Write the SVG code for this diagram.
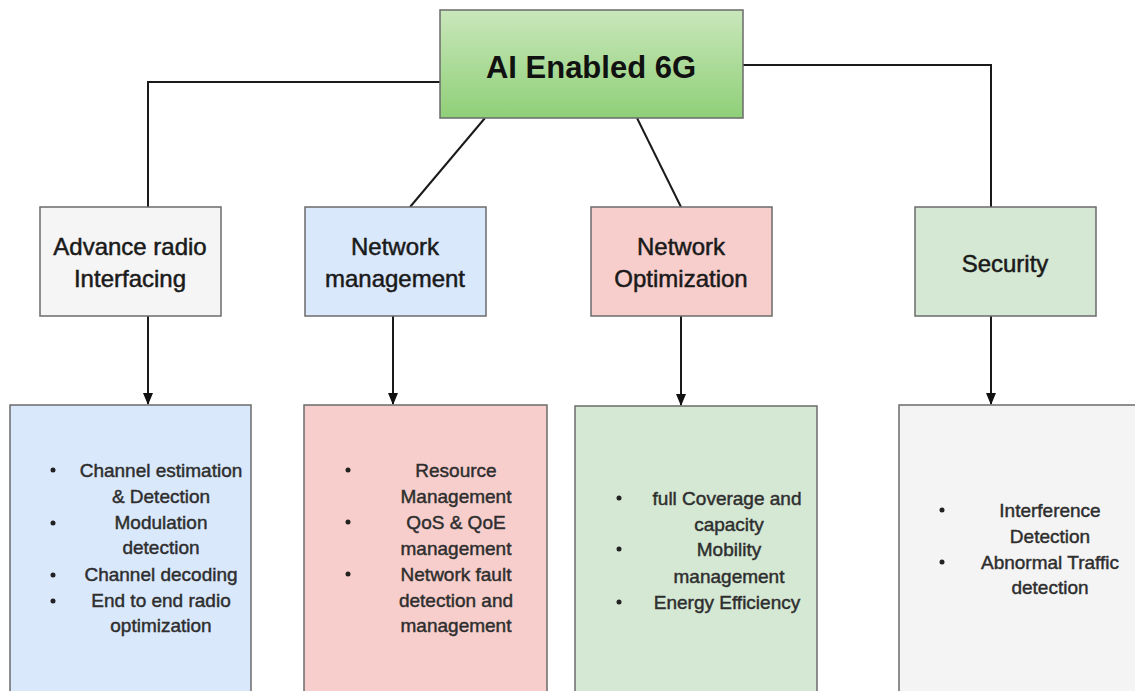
<svg xmlns="http://www.w3.org/2000/svg" width="1135" height="691" viewBox="0 0 1135 691">
  <defs>
    <linearGradient id="rootFill" x1="0" y1="0" x2="0" y2="1">
      <stop offset="0" stop-color="#c9e7bb"/>
      <stop offset="1" stop-color="#8fcf78"/>
    </linearGradient>
    <marker id="arrowhead" viewBox="0 0 12 12" refX="11" refY="6" markerWidth="12" markerHeight="12" markerUnits="userSpaceOnUse" orient="auto">
      <path d="M0,1 L12,6 L0,11 z" fill="#111"/>
    </marker>
  </defs>
  <style>
    .box { stroke: #6b6b6b; stroke-width: 1.5; }
    .title { font-family: "Liberation Sans", Arial, sans-serif; font-weight: bold; font-size: 31px; fill: #111; text-anchor: middle; }
    .head { font-family: "Liberation Sans", Arial, sans-serif; font-size: 24px; fill: #1a1a1a; stroke: #1a1a1a; stroke-width: 0.5; text-anchor: middle; }
    .item { font-family: "Liberation Sans", Arial, sans-serif; font-size: 19px; fill: #2e2e2e; stroke: #2e2e2e; stroke-width: 0.45; text-anchor: middle; }
    .dot { fill: #222; }
    .link { fill: none; stroke: #1a1a1a; stroke-width: 2; }
  </style>

  <rect width="1135" height="691" fill="#ffffff"/>

  <!-- connectors -->
  <g id="connectors">
    <polyline class="link" points="440,82 148,82 148,207"/>
    <polyline class="link" points="743,65 991,65 991,207"/>
    <line class="link" x1="485" y1="118" x2="410" y2="207"/>
    <line class="link" x1="637" y1="118" x2="681" y2="207"/>
    <line class="link" x1="148" y1="316" x2="148" y2="404" marker-end="url(#arrowhead)"/>
    <line class="link" x1="393" y1="316" x2="393" y2="404" marker-end="url(#arrowhead)"/>
    <line class="link" x1="681" y1="316" x2="681" y2="405" marker-end="url(#arrowhead)"/>
    <line class="link" x1="991" y1="316" x2="991" y2="404" marker-end="url(#arrowhead)"/>
  </g>

  <!-- root -->
  <g id="ai-enabled-6g">
    <rect class="box" x="440" y="10" width="303" height="108" fill="url(#rootFill)"/>
    <text class="title" x="591" y="78">AI Enabled 6G</text>
  </g>

  <!-- second level -->
  <g id="advance-radio">
    <rect class="box" x="40" y="207" width="181" height="109" fill="#f5f5f5"/>
    <text class="head" x="130" y="255">Advance radio</text>
    <text class="head" x="130" y="287">Interfacing</text>
  </g>
  <g id="network-management">
    <rect class="box" x="305" y="207" width="181" height="109" fill="#dae8fc"/>
    <text class="head" x="395" y="255">Network</text>
    <text class="head" x="395" y="287">management</text>
  </g>
  <g id="network-optimization">
    <rect class="box" x="591" y="207" width="181" height="109" fill="#f8cecc"/>
    <text class="head" x="681" y="255">Network</text>
    <text class="head" x="681" y="287">Optimization</text>
  </g>
  <g id="security">
    <rect class="box" x="915" y="207" width="181" height="109" fill="#d5e8d4"/>
    <text class="head" x="1005" y="272">Security</text>
  </g>

  <!-- third level -->
  <g id="radio-tasks">
    <rect class="box" x="10" y="405" width="241" height="290" fill="#dae8fc"/>
    <circle class="dot" cx="53" cy="470" r="2.5"/>
    <circle class="dot" cx="53" cy="523" r="2.5"/>
    <circle class="dot" cx="53" cy="575" r="2.5"/>
    <circle class="dot" cx="53" cy="601" r="2.5"/>
    <text class="item" x="161" y="477">Channel estimation</text>
    <text class="item" x="161" y="503">&amp; Detection</text>
    <text class="item" x="161" y="529">Modulation</text>
    <text class="item" x="161" y="554">detection</text>
    <text class="item" x="161" y="581">Channel decoding</text>
    <text class="item" x="161" y="607">End to end radio</text>
    <text class="item" x="161" y="632">optimization</text>
  </g>
  <g id="management-tasks">
    <rect class="box" x="304" y="405" width="243" height="290" fill="#f8cecc"/>
    <circle class="dot" cx="348" cy="470" r="2.5"/>
    <circle class="dot" cx="348" cy="522" r="2.5"/>
    <circle class="dot" cx="348" cy="574" r="2.5"/>
    <text class="item" x="456" y="477">Resource</text>
    <text class="item" x="456" y="503">Management</text>
    <text class="item" x="456" y="529">QoS &amp; QoE</text>
    <text class="item" x="456" y="555">management</text>
    <text class="item" x="456" y="581">Network fault</text>
    <text class="item" x="456" y="607">detection and</text>
    <text class="item" x="456" y="632">management</text>
  </g>
  <g id="optimization-tasks">
    <rect class="box" x="575" y="406" width="242" height="289" fill="#d5e8d4"/>
    <circle class="dot" cx="619" cy="498" r="2.5"/>
    <circle class="dot" cx="619" cy="549" r="2.5"/>
    <circle class="dot" cx="619" cy="602" r="2.5"/>
    <text class="item" x="727" y="505">full Coverage and</text>
    <text class="item" x="729" y="531">capacity</text>
    <text class="item" x="729" y="556">Mobility</text>
    <text class="item" x="729" y="583">management</text>
    <text class="item" x="727" y="609">Energy Efficiency</text>
  </g>
  <g id="security-tasks">
    <rect class="box" x="899" y="405" width="245" height="290" fill="#f4f4f4"/>
    <circle class="dot" cx="942" cy="510" r="2.5"/>
    <circle class="dot" cx="942" cy="562" r="2.5"/>
    <text class="item" x="1050" y="517">Interference</text>
    <text class="item" x="1050" y="543">Detection</text>
    <text class="item" x="1050" y="569">Abnormal Traffic</text>
    <text class="item" x="1050" y="594">detection</text>
  </g>
</svg>
